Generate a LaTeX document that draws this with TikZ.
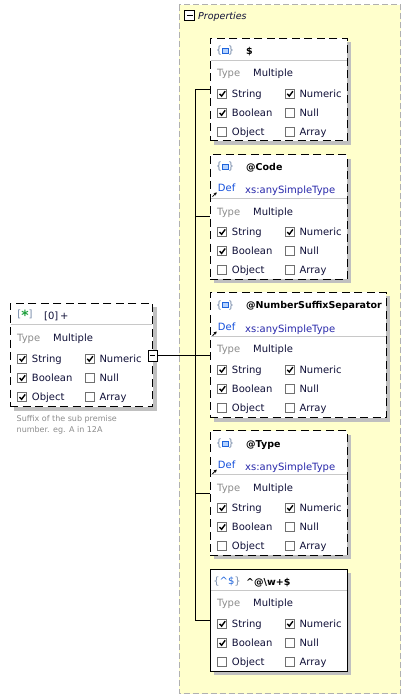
\documentclass[tikz,border=0pt]{standalone}
\usepackage{fontspec}
\setmainfont{DejaVu Sans}
\usetikzlibrary{shadows,arrows.meta}

\definecolor{panelfill}{RGB}{255,255,204}
\definecolor{panelline}{RGB}{176,176,176}
\definecolor{ink}{RGB}{16,16,56}
\definecolor{dim}{RGB}{140,140,140}
\definecolor{defblue}{RGB}{20,80,220}
\definecolor{typeblue}{RGB}{40,40,170}
\definecolor{rulegray}{RGB}{200,200,200}
\definecolor{shade}{RGB}{192,192,192}
\definecolor{iconline}{RGB}{120,140,170}
\definecolor{iconblue}{RGB}{30,100,220}
\definecolor{iconfill}{RGB}{180,210,255}
\definecolor{stargreen}{RGB}{30,160,60}
\definecolor{boxgray}{RGB}{112,112,112}

\tikzset{
  txt/.style={inner sep=0pt, anchor=base west, font=\fontsize{10}{12}\selectfont, text=ink},
  lbl/.style={txt, text=dim},
  ttl/.style={txt, font=\fontsize{9.5}{12}\selectfont\bfseries, text=black},
  deflbl/.style={txt, text=defblue},
  defval/.style={txt, text=typeblue},
  note/.style={inner sep=0pt, anchor=base west, font=\fontsize{8}{10}\selectfont, text=dim},
  iconglyph/.style={inner sep=0pt, anchor=center, font=\fontsize{10}{11}\selectfont, text=iconline},
  boxbase/.style={draw=black, line width=1pt, fill=white, anchor=north west,
    inner sep=0pt, outer sep=0pt,
    general shadow={fill=shade, shadow xshift=4pt, shadow yshift=-4pt}},
  optbox/.style={boxbase, dash pattern=on 8pt off 4.5pt},
  reqbox/.style={boxbase},
  sepline/.style={draw=rulegray, line width=1pt},
  wire/.style={draw=black, line width=0.8pt},
  cbox/.style={draw=boxgray, fill=white, line width=0.8pt},
  tick/.style={draw=black, line width=1.4pt},
  toggle/.style={draw=black, fill=white, line width=0.8pt, inner sep=0pt, outer sep=0pt},
  chk/.pic={\path[cbox] (-4.5,-4.5) rectangle (4.5,4.5);
            \path[tick] (-2.7,0.1) -- (-0.7,2.3) -- (2.9,-2.6);},
  nochk/.pic={\path[cbox] (-4.5,-4.5) rectangle (4.5,4.5);},
}

% Type / flag rows of an element box: #1 left edge, #2 centre of the Type row, #3 pic for Object
\newcommand\flagrows[3]{%
  \node[lbl] at (#1+7,#2+3.6) {Type};
  \node[txt] at (#1+43,#2+3.6) {Multiple};
  \pic at (#1+12.3,#2+20.5) {chk};   \node[txt] at (#1+21.7,#2+24.1) {String};
  \pic at (#1+80,#2+20.5)   {chk};   \node[txt] at (#1+89.3,#2+24.1) {Numeric};
  \pic at (#1+12.3,#2+39.6) {chk};   \node[txt] at (#1+21.7,#2+43.2) {Boolean};
  \pic at (#1+80,#2+39.6)   {nochk}; \node[txt] at (#1+89.3,#2+43.2) {Null};
  \pic at (#1+12.3,#2+58.7) {#3};    \node[txt] at (#1+21.7,#2+62.3) {Object};
  \pic at (#1+80,#2+58.7)   {nochk}; \node[txt] at (#1+89.3,#2+62.3) {Array};
}

% attribute icon: braces round a small blue block, centred at (#1,#2)
\newcommand\attricon[2]{%
  \node[iconglyph] at (#1-6,#2) {\{};
  \node[iconglyph] at (#1+6,#2) {\}};
  \path[draw=iconblue, fill=iconfill, line width=0.8pt] (#1-3,#2-2.5) rectangle (#1+3,#2+2.5);
}

% Def row: #1 left edge, #2 baseline of "Def"
\newcommand\defrow[2]{%
  \node[deflbl] at (#1+7.7,#2) {Def};
  \node[defval] at (#1+35,#2+1.8) {xs:anySimpleType};
  \draw[line width=0.8pt, -{Stealth[length=3pt,width=3.2pt]}] (#1+2.5,#2+5.2) -- (#1+6.7,#2+1);
}

\begin{document}
\begin{tikzpicture}[x=1pt,y=-1pt]
\useasboundingbox (0,0) rectangle (411,700);

% ---- Properties panel
\path[fill=panelfill, draw=panelline, line width=1pt, dash pattern=on 6pt off 3pt]
  (179,5) rectangle (400.5,693.5);
\node[toggle, minimum size=10pt] (ptog) at (189.5,15.5) {};
\draw[line width=0.8pt] ([xshift=2pt]ptog.west) -- ([xshift=-2pt]ptog.east);
\node[txt, font=\fontsize{9.5}{12}\selectfont\itshape] (ptitle) at (198,19.6) {Properties};

% ---- element boxes
\node[optbox, minimum width=137.3pt, minimum height=102.7pt] (p1) at (210,38.3) {};
\node[optbox, minimum width=137.3pt, minimum height=124.3pt] (p2) at (210,155) {};
\node[optbox, minimum width=176pt,   minimum height=125.4pt] (p3) at (210,292.3) {};
\node[optbox, minimum width=137.3pt, minimum height=124.3pt] (p4) at (210,430.7) {};
\node[reqbox, minimum width=137.3pt, minimum height=102pt]   (p5) at (210,569) {};
\node[optbox, minimum width=142.7pt, minimum height=103.4pt] (arr) at (10,303.3) {};

% $ 
\attricon{225}{50.5}
\node[ttl] at (246,54.2) {\$};
\draw[sepline] (210.5,60.3) -- (346.8,60.3);
\flagrows{210}{73.3}{nochk}

% @Code
\attricon{225}{166.8}
\node[ttl] at (246,170.4) {@Code};
\defrow{210}{191.4}
\draw[sepline] (210.5,198.7) -- (346.8,198.7);
\flagrows{210}{211.5}{nochk}

% @NumberSuffixSeparator
\attricon{225}{305.2}
\node[ttl] at (246,308.9) {@NumberSuffixSeparator};
\defrow{210}{330.5}
\draw[sepline] (210.5,336) -- (385.5,336);
\flagrows{210}{349.2}{nochk}

% @Type
\attricon{225}{443.5}
\node[ttl] at (246,447.2) {@Type};
\defrow{210}{468.6}
\draw[sepline] (210.5,474.3) -- (346.8,474.3);
\flagrows{210}{487.4}{nochk}

% ^@\w+$ (pattern property)
\node[iconglyph] at (227,581.3) {\{\textcolor{iconblue}{\textasciicircum\$}\}};
\node[ttl] at (246,585) {\textasciicircum @\textbackslash w+\$};
\draw[sepline] (210.5,590) -- (346.8,590);
\flagrows{210}{603.3}{nochk}

% [0]+ array item
\node[iconglyph] at (25,315.3) {[\textcolor{stargreen}{\raisebox{-3.6pt}{\fontsize{14}{14}\selectfont\bfseries *}}]};
\node[txt] at (44,319.3) {[0]\,+};
\draw[sepline] (10.5,324.3) -- (152.2,324.3);
\flagrows{10}{338.3}{chk}
\node[note] (desc1) at (16.5,421.3) {Suffix of the sub premise};
\node[note] (desc2) at (16.5,432.8) {number. eg. A in 12A};

% ---- connectors
\coordinate (t1) at (195,89.3);
\coordinate (t2) at (195,216.7);
\coordinate (t3) at (195,355.7);
\coordinate (t4) at (195,493.3);
\coordinate (t5) at (195,620.3);
\draw[wire] (t1) -- (t5);
\draw[wire] (t1) -- (t1 -| p1.west);
\draw[wire] (t2) -- (t2 -| p2.west);
\draw[wire] (t3) -- (t3 -| p3.west);
\draw[wire] (t4) -- (t4 -| p4.west);
\draw[wire] (t5) -- (t5 -| p5.west);

\node[toggle, minimum width=9pt, minimum height=10.5pt] (atog) at (152.5,355.7) {};
\draw[line width=0.8pt] ([xshift=1.8pt]atog.west) -- ([xshift=-1.8pt]atog.east);
\draw[wire] (atog.east) -- (t3);
\end{tikzpicture}
\end{document}
